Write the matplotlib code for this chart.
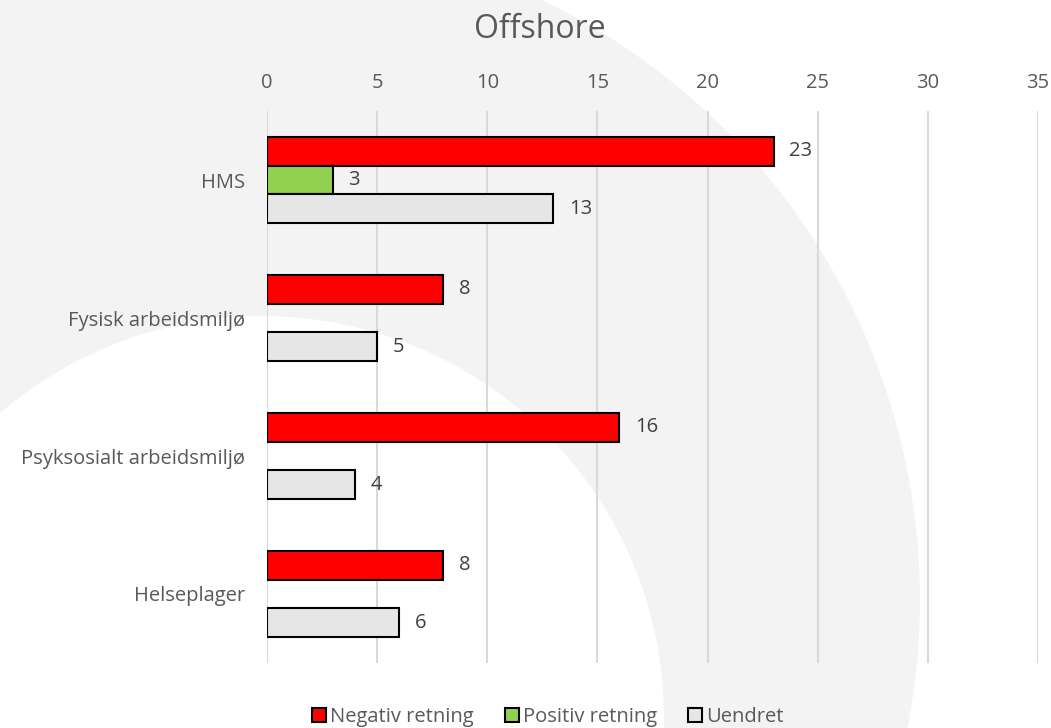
import matplotlib.pyplot as plt
from matplotlib.patches import Circle
import numpy as np

categories = ['HMS', 'Fysisk arbeidsmiljø', 'Psyksosialt arbeidsmiljø', 'Helseplager']
negativ = [23, 8, 16, 8]
positiv = [3, None, None, None]
uendret = [13, 5, 4, 6]
series_names = ['Negativ retning', 'Positiv retning', 'Uendret']
series_colors = ['#ff0000', '#92d050', '#e6e6e6']
x_ticks = [0, 5, 10, 15, 20, 25, 30, 35]

plt.rcParams['font.family'] = ['Open Sans', 'DejaVu Sans']
text_color = '#595959'
fs = 14.5

fig = plt.figure(figsize=(10.51, 7.28), dpi=100)
fig.patch.set_facecolor('white')

# faint ring watermark in the background (pixel coordinates)
bg = fig.add_axes([0, 0, 1, 1], zorder=0)
bg.set_xlim(0, 1051)
bg.set_ylim(728, 0)
bg.axis('off')
bg.add_patch(Circle((255, 600), 665, color='#f3f3f3', lw=0))
bg.add_patch(Circle((262, 718), 402, color='white', lw=0))

ax = fig.add_axes([0.2540, 0.0893, 0.7336, 0.7582], zorder=1)
ax.set_facecolor('none')

y = np.arange(len(categories))
h = 0.208
all_series = [negativ, positiv, uendret]
for k, (vals, name, col) in enumerate(zip(all_series, series_names, series_colors)):
    v = np.array([np.nan if a is None else a for a in vals], dtype=float)
    pos = y + (k - 1) * h
    ax.barh(pos, v, height=h, color=col, edgecolor='black', linewidth=1.5,
            label=name, zorder=3)
    for p, val in zip(pos, v):
        if not np.isnan(val):
            ax.text(val + 0.7, p, f'{int(val)}', va='center', ha='left',
                    fontsize=fs, color='#404040', zorder=4)

ax.set_xlim(0, 35)
ax.set_ylim(len(categories) - 0.5, -0.5)
ax.set_xticks(x_ticks)
ax.xaxis.tick_top()
ax.set_yticks(y)
ax.set_yticklabels(categories)
ax.tick_params(axis='both', length=0, labelsize=fs, labelcolor=text_color)
ax.tick_params(axis='x', pad=13)
ax.tick_params(axis='y', pad=16)
ax.grid(axis='x', color='#d9d9d9', linewidth=1.5, zorder=0)
ax.set_axisbelow(True)
for s in ax.spines.values():
    s.set_visible(False)

fig.text(540 / 1051, 1 - 29 / 728, 'Offshore', ha='center', va='center',
         fontsize=23, color=text_color)

fig.legend(loc='lower center', bbox_to_anchor=(0.521, -0.024), ncol=3,
           frameon=False, fontsize=fs, labelcolor=text_color,
           handlelength=0.7, handleheight=0.7, handletextpad=0.2,
           columnspacing=1.55)

fig.savefig('out.png', dpi=100)
